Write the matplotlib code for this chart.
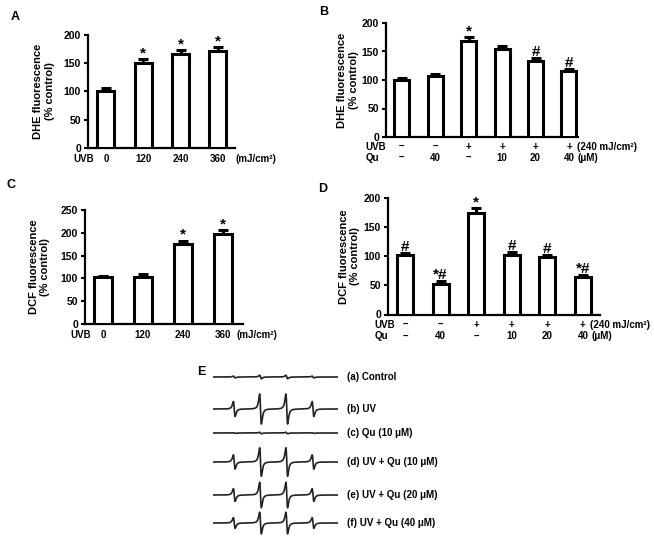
import numpy as np
import matplotlib
matplotlib.use('Agg')
import matplotlib.pyplot as plt
from matplotlib.transforms import blended_transform_factory

plt.rcParams['font.family'] = ['Liberation Sans', 'DejaVu Sans']
plt.rcParams['font.weight'] = 'bold'

# ---------------- data ----------------
a_doses = ['0', '120', '240', '360']
a_values = [101, 151, 166, 171]
a_errors = [5, 6, 7, 7]
a_marks = ['', '*', '*', '*']

b_uvb = ['–', '–', '+', '+', '+', '+']
b_qu = ['–', '40', '–', '10', '20', '40']
b_values = [100, 107, 168, 154, 134, 115]
b_errors = [4, 4, 7, 6, 4, 5]
b_marks = ['', '', '*', '', '#', '#']

c_doses = ['0', '120', '240', '360']
c_values = [102, 104, 175, 198]
c_errors = [4, 5, 8, 8]
c_marks = ['', '', '*', '*']

d_uvb = ['–', '–', '+', '+', '+', '+']
d_qu = ['–', '40', '–', '10', '20', '40']
d_values = [102, 53, 174, 103, 98, 64]
d_errors = [4, 4, 8, 5, 4, 4]
d_marks = ['#', '*#', '*', '#', '#', '*#']

esr_labels = ['(a) Control', '(b) UV', '(c) Qu (10 μM)', '(d) UV + Qu (10 μM)',
              '(e) UV + Qu (20 μM)', '(f) UV + Qu (40 μM)']
esr_intensity = [0.12, 1.0, 0.05, 0.95, 0.85, 0.72]
esr_line_positions = [0.17, 0.38, 0.59, 0.80]   # DMPO-OH quartet, fraction of sweep
esr_line_ratios = [1, 2, 2, 1]

# ---------------- layout ----------------
W, H = 654, 544
fig = plt.figure(figsize=(W / 100, H / 100), dpi=100)


def px_axes(x0, y_top, x1, y_bot):
    return fig.add_axes([x0 / W, 1 - y_bot / H, (x1 - x0) / W, (y_bot - y_top) / H])


def bar_panel(ax, values, errors, marks, ymax, xlim, width, ylabel, labelpad):
    n = len(values)
    x = np.arange(n)
    ax.bar(x, values, width=width, color='white', edgecolor='black', linewidth=2.2, zorder=3)
    ax.errorbar(x, values, yerr=[np.zeros(n), errors], fmt='none', ecolor='black',
                elinewidth=2.2, capsize=3.4, capthick=2.2, zorder=2)
    for xi, v, e, m in zip(x, values, errors, marks):
        if m:
            ax.annotate(m, xy=(xi, v + e), xytext=(0, 1.5), textcoords='offset points',
                        ha='center', va='baseline', fontsize=11, fontweight='bold')
    ax.set_xlim(*xlim)
    ax.set_ylim(0, ymax)
    ax.set_yticks(np.arange(0, ymax + 1, 50))
    ax.set_xticks([])
    for s in ['top', 'right']:
        ax.spines[s].set_visible(False)
    for s in ['left', 'bottom']:
        ax.spines[s].set_linewidth(1.6)
    ax.tick_params(axis='y', direction='out', length=3, width=1.5, labelsize=7.5, pad=2)
    ax.set_ylabel(ylabel, fontsize=8, fontweight='bold', labelpad=labelpad, linespacing=1.2)
    return x


def row(ax, xs, labels, dy, fs=7):
    for xi, lab in zip(xs, labels):
        ax.annotate(lab, xy=(xi, 0), xycoords=('data', 'axes fraction'),
                    xytext=(0, -dy), textcoords='offset points',
                    ha='center', va='center', fontsize=fs, fontweight='bold')


def side(ax, xv, text, dy, dx=0, ha='center', fs=7):
    ax.annotate(text, xy=(xv, 0), xycoords=('data', 'axes fraction'),
                xytext=(dx, -dy), textcoords='offset points',
                ha=ha, va='center', fontsize=fs, fontweight='bold')


# Panel A
axA = px_axes(88, 35, 235, 148)
xA = bar_panel(axA, a_values, a_errors, a_marks, 200, (-0.48, 3.46), 0.46,
               'DHE fluorescence\n(% control)', 6.5)
row(axA, xA, a_doses, 7.9)
side(axA, -0.60, 'UVB', 7.9)
side(axA, xA[-1], '(mJ/cm²)', 7.9, dx=13, ha='left')

# Panel B
axB = px_axes(386, 23, 578, 137)
xB = bar_panel(axB, b_values, b_errors, b_marks, 200, (-0.47, 5.27), 0.45,
               'DHE fluorescence\n(% control)', 2)
row(axB, xB, b_uvb, 7.2)
row(axB, xB, b_qu, 15.1)
side(axB, -1.09, 'UVB', 7.2, ha='left')
side(axB, -1.09, 'Qu', 15.1, ha='left')
side(axB, xB[-1], '(240 mJ/cm²)', 7.2, dx=6, ha='left')
side(axB, xB[-1], '(μM)', 15.1, dx=6, ha='left')

# Panel C
axC = px_axes(85, 210, 243, 324)
xC = bar_panel(axC, c_values, c_errors, c_marks, 250, (-0.45, 3.5), 0.45,
               'DCF fluorescence\n(% control)', 7.5)
row(axC, xC, c_doses, 7.9)
side(axC, -0.55, 'UVB', 7.9)
side(axC, xC[-1], '(mJ/cm²)', 7.9, dx=10, ha='left')

# Panel D
axD = px_axes(388, 198, 600, 314.5)
xD = bar_panel(axD, d_values, d_errors, d_marks, 200, (-0.48, 5.48), 0.45,
               'DCF fluorescence\n(% control)', 2.5)
row(axD, xD, d_uvb, 7.6)
row(axD, xD, d_qu, 15.8)
side(axD, -0.85, 'UVB', 7.6, ha='left')
side(axD, -0.85, 'Qu', 15.8, ha='left')
side(axD, xD[-1], '(240 mJ/cm²)', 7.6, dx=5, ha='left')
side(axD, xD[-1], '(μM)', 15.8, dx=6, ha='left')

# Panel E: ESR spectra
axE = px_axes(213, 360, 338, 540)
axE.set_xlim(0, 1)
axE.set_ylim(540, 360)
axE.axis('off')
rows_y = [377, 409, 433, 462, 495, 523]
field = np.linspace(0, 1, 1200)
w = 0.012
amp_px = 7.5
for yb, inten, lab in zip(rows_y, esr_intensity, esr_labels):
    sig = np.zeros_like(field)
    for pos, r in zip(esr_line_positions, esr_line_ratios):
        u = (field - pos) / w
        sig += -r * u / (1 + u ** 2) ** 2 / 0.3248
    axE.plot(field, yb - amp_px * inten * sig, color='#222222', lw=1.2)
    axE.text(1.072, yb, lab, transform=blended_transform_factory(axE.transAxes, axE.transData),
             ha='left', va='center', fontsize=7, fontweight='bold')

# Panel letters
for letter, (lx, ly) in {'A': (15, 17), 'B': (324, 12), 'C': (11, 185),
                         'D': (323, 189), 'E': (201, 372)}.items():
    fig.text(lx / W, 1 - ly / H, letter, ha='center', va='center', fontsize=9, fontweight='bold')

fig.savefig('out.png', dpi=100)
